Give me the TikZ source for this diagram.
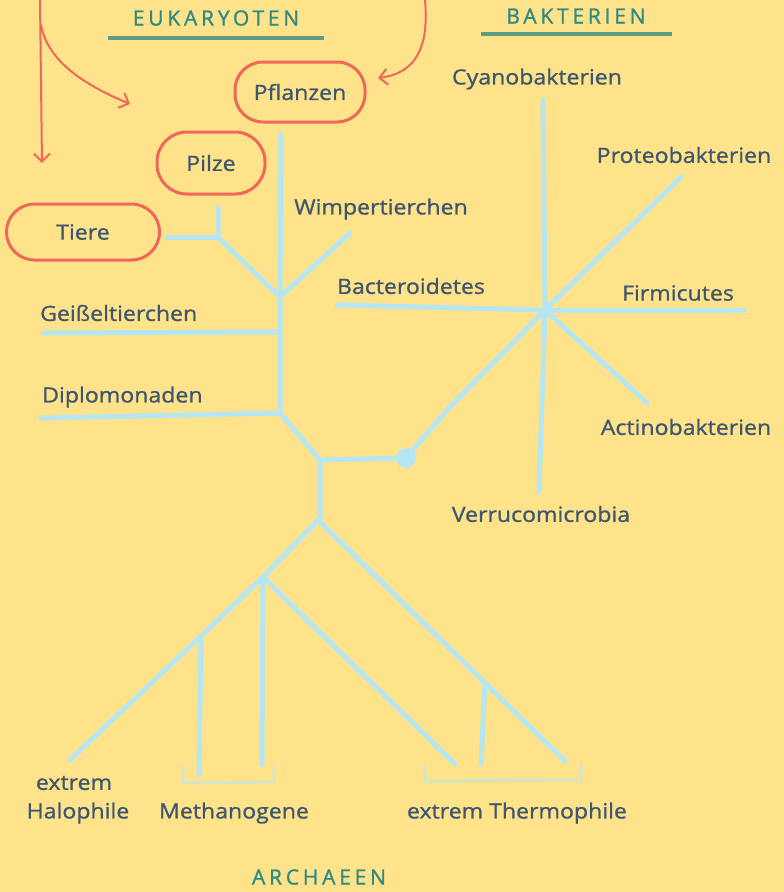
\documentclass[tikz,border=0pt]{standalone}
\usepackage{fontspec}
\setmainfont{Open Sans}[FakeStretch=1.1,FakeBold=1]
\newfontfamily\hdrfont{Open Sans}[LetterSpace=18,FakeBold=1.2]
\usetikzlibrary{arrows.meta,calc}
\definecolor{bg}{HTML}{FFE38A}
\definecolor{txt}{HTML}{3E5670}
\definecolor{head}{HTML}{2F8A84}
\definecolor{uline}{HTML}{5C9C80}
\definecolor{branch}{HTML}{B5E6F2}
\definecolor{redc}{HTML}{F0675A}
\begin{document}
\begin{tikzpicture}[x=1pt,y=-1pt,
  lbl/.style={text=txt,font=\fontsize{21}{24}\selectfont,inner sep=0pt},
  hdr/.style={text=head,font=\hdrfont\fontsize{21}{24}\selectfont,inner sep=0pt},
  uln/.style={uline,line width=4pt},
  br/.style={branch,line width=5pt,line cap=round,line join=round},
  brk/.style={branch!60!bg,line width=3pt,line cap=round,line join=round},
  rarrow/.style={redc,line width=2pt,line cap=round,-{Straight Barb[length=8pt,width=16pt,line width=2pt]}},
  oval/.style={draw=redc,line width=3pt,rounded corners=28pt,text=txt,font=\fontsize{21}{24}\selectfont,inner sep=0pt}]
\fill[bg] (0,0) rectangle (784,892);
\useasboundingbox (0,0) rectangle (784,892);

% headers
\node[hdr] (heuk) at (216,18) {EUKARYOTEN};
\coordinate (u1a) at (108,38); \coordinate (u1b) at (324,38);
\draw[uln] (u1a) -- (u1b);
\node[hdr] (hbak) at (576,16) {BAKTERIEN};
\coordinate (u2a) at (481,34); \coordinate (u2b) at (672,34);
\draw[uln] (u2a) -- (u2b);
\node[hdr] (harc) at (319,877) {ARCHAEEN};

% ovals
\node[oval,minimum width=130pt,minimum height=60pt] (pfl) at (300,92) {Pflanzen};
\node[oval,minimum width=108pt,minimum height=62pt,rounded corners=30pt] (pil) at (211,163) {Pilze};
\node[oval,minimum width=153pt,minimum height=56pt] (tie) at (83,232) {Tiere};

% red arrows
\coordinate (r0) at (40,0);
\coordinate (r1) at (42,163);
\coordinate (r2s) at (41,25);
\coordinate (r2) at (130,104);
\coordinate (r3s) at (425,0);
\coordinate (r3) at (378,78);
\draw[rarrow] (r0) -- (r1);
\draw[rarrow] (r2s) .. controls (48,62) and (85,85) .. (r2);
\draw[rarrow] (r3s) .. controls (430,55) and (410,74) .. (r3);

% eukaryote tree
\coordinate (etop) at (281,134);
\coordinate (ej1) at (280,297);
\coordinate (ewimp) at (350,233);
\coordinate (ek) at (225,244);
\coordinate (ept) at (218,237);
\coordinate (epilz) at (218,208);
\coordinate (etier) at (167,237);
\coordinate (ej2) at (280,332);
\coordinate (egeis) at (43,333);
\coordinate (ej3) at (280,413);
\coordinate (edipl) at (41,418);
\coordinate (rj) at (320,460);
\coordinate (rlow) at (320,518);
\draw[br] (etop) -- (ej1) -- (ej2) -- (ej3) -- (rj) -- (rlow);
\draw[br] (ej1) -- (ek) -- (ept) -- (epilz);
\draw[br] (ept) -- (etier);
\draw[br] (ej1) -- (ewimp);
\draw[br] (ej2) -- (egeis);
\draw[br] (ej3) -- (edipl);
\node[circle,fill=branch,minimum size=20pt,inner sep=0pt] (root) at (406,458) {};
\draw[br] (rj) -- (root.center);

% bacteria
\coordinate (bc) at (545,310);
\coordinate (bk) at (447,410);
\coordinate (bcya) at (543,100);
\coordinate (bpro) at (681,177);
\coordinate (bfir) at (744,310);
\coordinate (bbac) at (337,305);
\coordinate (bact) at (647,403);
\coordinate (bver) at (539,492);
\draw[br] (root.center) -- (bk) -- (bc);
\draw[br] (bc) -- (bcya);
\draw[br] (bc) -- (bpro);
\draw[br] (bc) -- (bfir);
\draw[br] (bc) -- (bbac);
\draw[br] (bc) -- (bact);
\draw[br] (bc) -- (bver);

% archaea
\coordinate (atop) at (318,520);
\coordinate (al) at (263,577);
\coordinate (am) at (201,636);
\coordinate (ahal) at (70,760);
\coordinate (amet1) at (199,775);
\coordinate (amet2) at (262,765);
\coordinate (ath1) at (455,764);
\coordinate (ar) at (565,761);
\coordinate (arj) at ($(atop)!0.676!(ar)$);
\coordinate (ath2) at (481,764);
\draw[br] (rlow) -- (atop) -- (al) -- (am) -- (ahal);
\draw[br] (am) -- (amet1);
\draw[br] (al) -- (amet2);
\draw[br] (al) -- (ath1);
\draw[br] (atop) -- (ar);
\draw[br] (arj) -- (ath2);
% brackets
\coordinate (k1a) at (183,767); \coordinate (k1b) at (183,783);
\coordinate (k1c) at (274,782); \coordinate (k1d) at (274,766);
\draw[brk] (k1a) -- (k1b) -- (k1c) -- (k1d);
\coordinate (k2a) at (425,765); \coordinate (k2b) at (425,781);
\coordinate (k2c) at (581,780); \coordinate (k2d) at (581,765);
\draw[brk] (k2a) -- (k2b) -- (k2c) -- (k2d);

% labels
\node[lbl] (lwimp) at (381,209) {Wimpertierchen};
\node[lbl,anchor=west] (lgeis) at (40,313) {Geißeltierchen};
\node[lbl,anchor=west] (ldipl) at (42,397) {Diplomonaden};
\node[lbl] (lcya) at (537,79) {Cyanobakterien};
\node[lbl] (lpro) at (684,155) {Proteobakterien};
\node[lbl] (lfir) at (678,293) {Firmicutes};
\node[lbl] (lbac) at (411,286) {Bacteroidetes};
\node[lbl] (lact) at (686,427) {Actinobakterien};
\node[lbl] (lver) at (541,514) {Verrucomicrobia};
\node[lbl] (lext) at (74,783) {extrem};
\node[lbl] (lhal) at (78,813) {Halophile};
\node[lbl] (lmet) at (234,813) {Methanogene};
\node[lbl] (lthe) at (517,813) {extrem Thermophile};
\end{tikzpicture}
\end{document}
